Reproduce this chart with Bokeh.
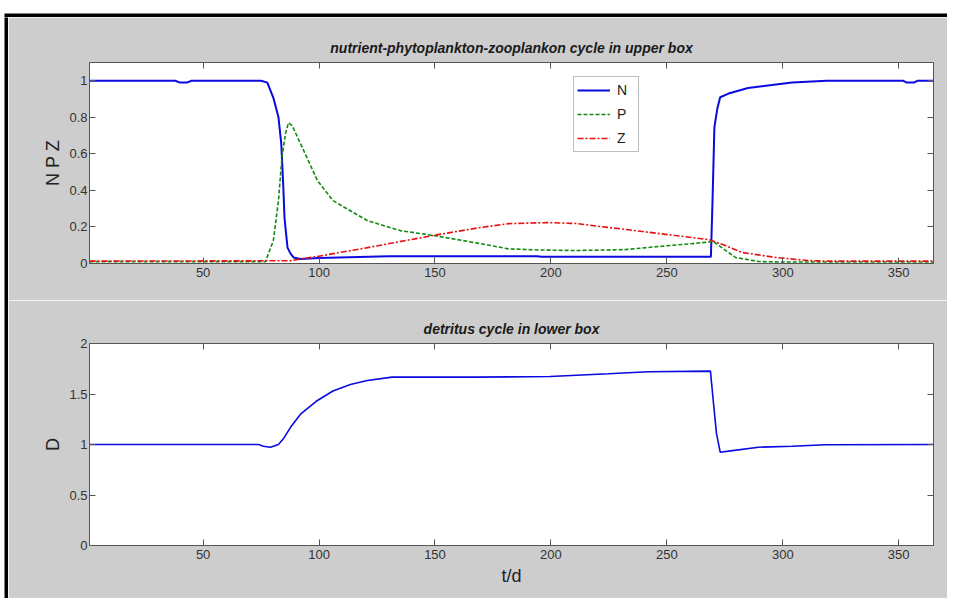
from bokeh.plotting import figure
from bokeh.models import (Range1d, LinearAxis, FixedTicker, CustomJSTickFormatter,
                          Legend, LegendItem)
from bokeh.layouts import column, row
from bokeh.embed import file_html
from bokeh.resources import INLINE

# ---------------- data ----------------
N_t = [1, 38, 40, 43, 45, 75, 77.7, 80.3, 82.5, 83.7, 84.6, 85.1, 86.4, 87.7, 89, 92,
       100, 130, 194, 196, 269, 269.7, 270.5, 271.8, 273, 276.6, 285, 304, 319, 352,
       353.5, 356.5, 358, 365]
N = [1.0, 1.0, 0.99, 0.99, 1.0, 1.0, 0.99, 0.907, 0.80, 0.656, 0.415, 0.25, 0.087, 0.054,
     0.033, 0.025, 0.03, 0.04, 0.04, 0.037, 0.037, 0.344, 0.745, 0.85, 0.91, 0.93, 0.96,
     0.99, 1.0, 1.0, 0.99, 0.99, 1.0, 1.0]

P_t = [1, 76.9, 80.3, 82.5, 84, 85.5, 86.8, 88.4, 92, 99.3, 106, 120.8, 135, 149.4,
       169.6, 181.7, 195, 210.6, 232, 246.4, 261, 270, 275, 279.6, 289.5, 300, 365]
P = [0.01, 0.01, 0.126, 0.344, 0.58, 0.71, 0.77, 0.755, 0.656, 0.454, 0.344, 0.235, 0.18,
     0.153, 0.109, 0.08, 0.074, 0.071, 0.076, 0.093, 0.109, 0.12, 0.075, 0.033, 0.011,
     0.008, 0.008]

Z_t = [1, 88, 92, 99, 121, 149, 169.6, 181.7, 198.5, 210.6, 225, 239.5, 253.7, 268,
       275.3, 282.6, 296.9, 311, 320, 365]
Z = [0.013, 0.015, 0.025, 0.038, 0.087, 0.153, 0.197, 0.218, 0.224, 0.219, 0.197, 0.175,
     0.153, 0.131, 0.098, 0.06, 0.033, 0.016, 0.013, 0.013]

D_t = [1, 73.9, 76, 79, 82.5, 84.6, 87.7, 92, 99.3, 106, 113.5, 120.8, 131.5, 167.5,
       199.6, 224.8, 242, 268.8, 270, 271.4, 273, 276.6, 289.5, 304, 318.4, 365]
D = [1.0, 1.0, 0.983, 0.973, 1.0, 1.056, 1.17, 1.30, 1.436, 1.53, 1.594, 1.634, 1.667,
     1.667, 1.673, 1.70, 1.72, 1.726, 1.436, 1.11, 0.924, 0.934, 0.973, 0.983, 0.997, 1.0]

x_ticks = [50, 100, 150, 200, 250, 300, 350]
npz_ticks = [0, 0.2, 0.4, 0.6, 0.8, 1.0]
d_ticks = [0, 0.5, 1.0, 1.5, 2.0]

title_top = "nutrient-phytoplankton-zooplankon cycle in upper box"
title_bot = "detritus cycle in lower box"

FONT = "Liberation Sans"
BG = "#cdcdcd"
AXC = "#555555"
TXT = "#333333"

fmt = CustomJSTickFormatter(code="return String(Math.round(tick*10)/10);")


def style_axis(ax, ticks, labels=True):
    ax.ticker = FixedTicker(ticks=ticks)
    ax.formatter = fmt
    ax.axis_line_color = AXC
    ax.major_tick_line_color = AXC
    ax.major_tick_in = 6
    ax.major_tick_out = 0
    ax.minor_tick_line_color = None
    ax.major_label_text_font = FONT
    ax.major_label_text_color = TXT
    if labels:
        ax.major_label_text_font_size = "13px"
        ax.major_label_standoff = 4
    else:
        ax.axis_line_color = None
        ax.major_label_text_font_size = "1px"
        ax.major_label_text_color = None
        ax.major_label_standoff = 0
    ax.axis_label_text_font = FONT
    ax.axis_label_text_font_style = "normal"
    ax.axis_label_text_color = "#222222"
    ax.axis_label_text_font_size = "18px"


def make_fig(h, ymax, yticks, title, top, bottom, ylabel, title_standoff, xlabel=None):
    p = figure(width=939, height=h, x_range=Range1d(1, 365), y_range=Range1d(0, ymax),
               output_backend="svg", toolbar_location=None,
               min_border_left=81, min_border_right=14,
               min_border_top=top, min_border_bottom=bottom)
    p.background_fill_color = "white"
    p.border_fill_color = BG
    p.outline_line_color = AXC
    p.xgrid.visible = False
    p.ygrid.visible = False
    p.title.text = title
    p.title.align = "center"
    p.title.text_font = FONT
    p.title.text_font_style = "bold italic"
    p.title.text_font_size = "14px"
    p.title.text_color = "#1a1a1a"
    p.title.standoff = title_standoff
    style_axis(p.xaxis[0], x_ticks)
    style_axis(p.yaxis[0], yticks)
    p.yaxis[0].major_label_standoff = 2
    p.yaxis[0].axis_label = ylabel
    p.yaxis[0].axis_label_standoff = 3
    if xlabel:
        p.xaxis[0].axis_label = xlabel
        p.xaxis[0].axis_label_standoff = 4
    top_ax = LinearAxis()
    style_axis(top_ax, x_ticks, labels=False)
    p.add_layout(top_ax, "above")
    right_ax = LinearAxis()
    style_axis(right_ax, yticks, labels=False)
    p.add_layout(right_ax, "right")
    return p


def bar(w, h, color):
    b = figure(width=w, height=h, output_backend="svg", toolbar_location=None,
               title=None, min_border=0, x_range=Range1d(0, w), y_range=Range1d(0, h))
    b.axis.visible = False
    b.grid.visible = False
    b.outline_line_color = None
    b.background_fill_color = color
    b.border_fill_color = color
    return b


p1 = make_fig(283, 1.1, npz_ticks, title_top, 45, 37, "N P Z", 13)
rN = p1.line(N_t, N, line_color="#0a0ae0", line_width=2)
rP = p1.line(P_t, P, line_color="#108a10", line_width=1.6, line_dash="4 2")
rZ = p1.line(Z_t, Z, line_color="#e81010", line_width=1.6, line_dash="6 2 2 2")
leg = Legend(items=[LegendItem(label="N", renderers=[rN]),
                    LegendItem(label="P", renderers=[rP]),
                    LegendItem(label="Z", renderers=[rZ])],
             location=(484, 111))
leg.border_line_color = "#7f7f7f"
leg.background_fill_color = "white"
leg.background_fill_alpha = 1.0
leg.label_text_font = FONT
leg.label_text_font_size = "14px"
leg.label_text_color = "#222222"
leg.glyph_width = 33
leg.glyph_height = 20
leg.spacing = 4
leg.padding = 3
leg.label_standoff = 7
leg.label_width = 18
leg.margin = 0
p1.add_layout(leg, "center")

p2 = make_fig(298, 2, d_ticks, title_bot, 43, 53, "D", 13, "t/d")
p2.line(D_t, D, line_color="#0a0ae0", line_width=1.6)

# window frame: white strip with the black top edge drawn in its lowest 4 px
top_strip = bar(947, 17, "white")
top_strip.quad(left=[4], right=[947], bottom=[0], top=[4], fill_color="black",
               line_color=None)
left_white = bar(4, 581, "white")
left_black = bar(4, 581, "black")

layout = column(
    top_strip,
    row(left_white, left_black, column(p1, p2, spacing=0), spacing=0),
    spacing=0)

open("out.html", "w").write(file_html(layout, INLINE))
